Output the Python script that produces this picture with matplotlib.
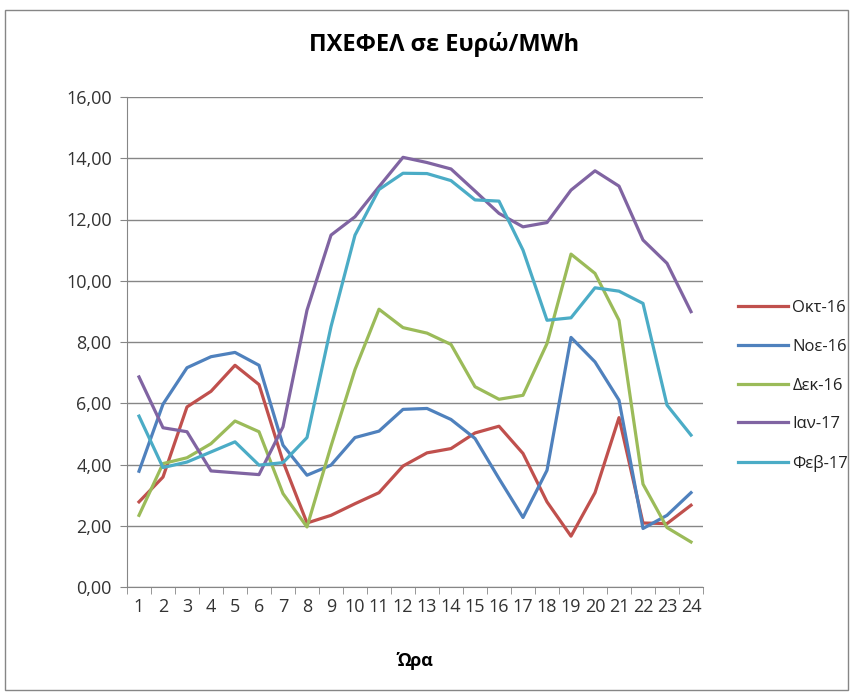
import matplotlib.pyplot as plt
import matplotlib.patches as patches
import numpy as np

plt.rcParams['font.family'] = ['Open Sans', 'DejaVu Sans']

hours = list(range(1, 25))
okt16 = [2.78, 3.59, 5.88, 6.39, 7.24, 6.61, 4.1, 2.09, 2.34, 2.72, 3.08, 3.95,
         4.38, 4.52, 5.03, 5.25, 4.36, 2.78, 1.66, 3.08, 5.53, 2.09, 2.07, 2.67]
noe16 = [3.78, 5.97, 7.16, 7.52, 7.66, 7.24, 4.63, 3.65, 3.98, 4.88, 5.09, 5.80,
         5.83, 5.47, 4.85, 3.54, 2.27, 3.81, 8.15, 7.35, 6.10, 1.91, 2.34, 3.08]
dek16 = [2.34, 4.03, 4.22, 4.68, 5.42, 5.07, 3.05, 1.96, 4.6, 7.1, 9.07, 8.47,
         8.29, 7.92, 6.54, 6.13, 6.26, 7.95, 10.87, 10.24, 8.71, 3.36, 1.94, 1.47]
ian17 = [6.86, 5.20, 5.07, 3.79, 3.73, 3.67, 5.23, 9.04, 11.49, 12.09, 13.07, 14.03,
         13.86, 13.65, 12.93, 12.2, 11.76, 11.9, 12.96, 13.59, 13.09, 11.33, 10.57, 8.99]
feb17 = [5.58, 3.90, 4.08, 4.41, 4.74, 3.98, 4.06, 4.88, 8.5, 11.49, 12.98, 13.51,
         13.5, 13.27, 12.64, 12.6, 11.0, 8.71, 8.79, 9.77, 9.66, 9.26, 5.94, 4.96]

series = [("Οκτ-16", okt16, "#C0504D"),
          ("Νοε-16", noe16, "#4F81BD"),
          ("Δεκ-16", dek16, "#9BBB59"),
          ("Ιαν-17", ian17, "#8064A2"),
          ("Φεβ-17", feb17, "#4BACC6")]

fig = plt.figure(figsize=(8.53, 6.93), dpi=100)
ax = fig.add_axes([127/853, 106/693, 576/853, 490/693])

for name, vals, col in series:
    ax.plot(hours, vals, color=col, lw=2.3, label=name)

ax.set_xlim(0.5, 24.5)
ax.set_ylim(0, 16)
ax.set_yticks(np.arange(0, 17, 2))
ax.set_yticklabels([f"{v:.2f}".replace(".", ",") for v in np.arange(0, 17, 2)])
ax.set_xticks(hours)
ax.set_xticks(np.arange(0.5, 25, 1), minor=True)
ax.tick_params(axis='x', which='major', length=0, pad=8, labelsize=13)
ax.tick_params(axis='x', which='minor', length=5, color='#868686', direction='out')
ax.tick_params(axis='y', length=5, color='#868686', labelsize=13, pad=6)
for lab in ax.get_xticklabels() + ax.get_yticklabels():
    lab.set_color('#333333')
ax.grid(axis='y', color='#868686', lw=1)
ax.set_axisbelow(True)
for s in ['top', 'right']:
    ax.spines[s].set_visible(False)
ax.spines['left'].set_color('#868686')
ax.spines['bottom'].set_color('#868686')

ax.set_title("ΠΧΕΦΕΛ σε Ευρώ/MWh", fontsize=17, fontweight='bold', pad=33, x=0.55)
ax.set_xlabel("Ώρα", fontsize=13, fontweight='bold', labelpad=26)

leg = ax.legend(loc='center left', bbox_to_anchor=(1.035, 0.41), frameon=False,
                fontsize=12, handlelength=3.0, labelspacing=1.36, handletextpad=0.25)
for t in leg.get_texts():
    t.set_color('#222222')

fig.patches.append(patches.Rectangle((5/853, 3/693), 843/853, 680/693, transform=fig.transFigure,
                                     fill=False, edgecolor='#868686', lw=1))

fig.savefig("out.png", dpi=100)
